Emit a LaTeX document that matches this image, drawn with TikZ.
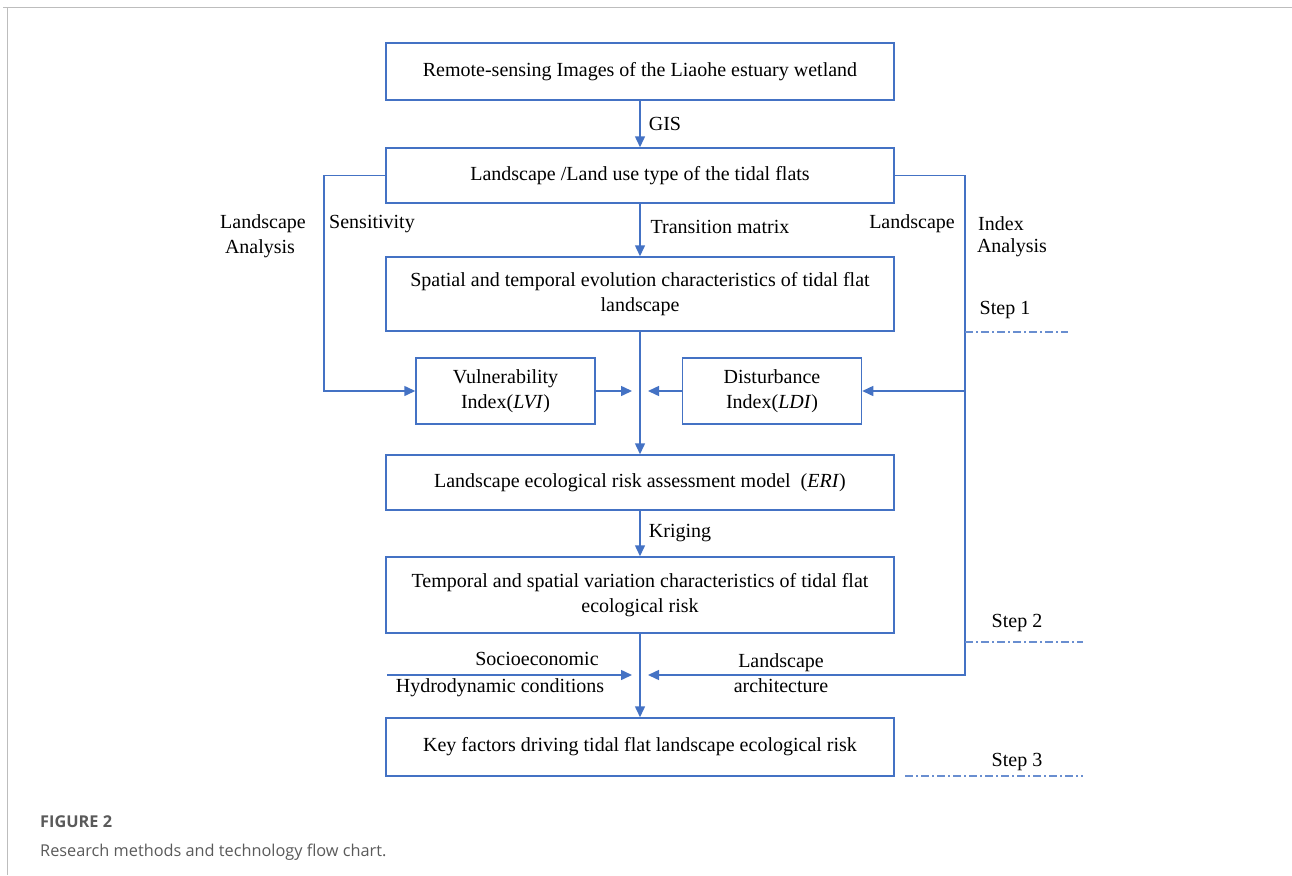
\documentclass[tikz,border=0pt]{standalone}
\usepackage{fontspec}
\setmainfont{Liberation Serif}
\newfontfamily\capfont{Open Sans}
\usetikzlibrary{arrows.meta}
\definecolor{flowblue}{HTML}{4472C4}
\definecolor{framegray}{HTML}{BDBDBD}
\definecolor{capgray}{HTML}{5A5A5A}
\tikzset{
  box/.style={draw=flowblue, line width=1.5pt, minimum width=508pt, align=center,
    inner sep=0pt, font=\fontsize{20}{25}\selectfont},
  smallbox/.style={box, minimum width=179pt, minimum height=66pt},
  lbl/.style={inner sep=0pt, font=\fontsize{20}{25}\selectfont, align=center},
  flow/.style={draw=flowblue, line width=1.5pt, -{Triangle[length=11pt,width=10pt]}},
  stepline/.style={draw=flowblue!80, line width=1.2pt,
    dash pattern=on 8pt off 3pt on 2pt off 3pt},
}
\begin{document}
\begin{tikzpicture}[x=1pt,y=-1pt]
  \useasboundingbox (0,0) rectangle (1292,875);
  % frame of the figure page
  \draw[framegray, line width=1pt] (3,8) -- (1292,8);
  \draw[framegray, line width=1pt] (7,8) -- (7,875);

  % main column
  \node[box, minimum height=57pt] (rs) at (640,71.5) {Remote-sensing Images\ of\ the Liaohe estuary wetland};
  \node[box, minimum height=55pt] (lu) at (640,175.5) {Landscape /Land use type of the tidal flats};
  \node[box, minimum height=74pt] (st) at (640,294) {Spatial and temporal\ evolution characteristics of tidal flat\\landscape};
  \node[smallbox] (lvi) at (505.5,391) {Vulnerability\\Index(\textit{LVI})};
  \node[smallbox] (ldi) at (772,391) {Disturbance\\Index(\textit{LDI})};
  \node[box, minimum height=55pt] (eri) at (640,482.5) {Landscape ecological risk assessment model\ \ (\textit{ERI})};
  \node[box, minimum height=76pt] (tv) at (640,595) {Temporal\ and spatial variation characteristics of tidal flat\\ecological risk};
  \node[box, minimum height=58pt] (kf) at (640,747) {Key factors\ driving\ tidal flat landscape ecological risk};

  % junction points
  \coordinate (sl) at (324,391);
  \coordinate (ir) at (965,675);
  \coordinate (ib) at (965,391);
  \coordinate (jl) at (632,391);
  \coordinate (jr) at (648,391);
  \coordinate (hl) at (387,675);
  \coordinate (hj) at (632,675);
  \coordinate (aj) at (648,675);

  % connectors
  \draw[flow] (rs) -- (lu);
  \draw[flow] (lu) -- (st);
  \draw[flow] (st) -- (eri);
  \draw[flow] (eri) -- (tv);
  \draw[flow] (tv) -- (kf);
  \draw[flow] (lu.west) -| (sl) -- (lvi);
  \draw[flow] (lvi) -- (jl);
  \draw[flow] (ldi) -- (jr);
  \draw[flow] (lu.east) -| (ir) -- (aj);
  \draw[flow] (ib) -- (ldi);
  \draw[flow] (hl) -- (hj);

  % labels
  \node[lbl] (gis) at (665,124) {GIS};
  \node[lbl] (tm) at (720,227) {Transition matrix};
  \node[lbl] (ls1) at (263,224) {Landscape};
  \node[lbl] (ls2) at (260,249) {Analysis};
  \node[lbl] (sens) at (372,224) {Sensitivity};
  \node[lbl] (li1) at (912,224) {Landscape};
  \node[lbl] (li2) at (1001,224) {Index};
  \node[lbl] (li3) at (1012,248) {Analysis};
  \node[lbl] (kr) at (680,533) {Kriging};
  \node[lbl] (soc) at (537,659) {Socioeconomic};
  \node[lbl] (hyd) at (500,688) {Hydrodynamic conditions};
  \node[lbl] (la) at (781,673) {Landscape\\architecture};

  % steps
  \node[lbl] (s1) at (1005,310) {Step 1};
  \node[lbl] (s2) at (1017,623) {Step 2};
  \node[lbl] (s3) at (1017,762) {Step 3};
  \coordinate (s1a) at (965,332);  \coordinate (s1b) at (1068,332);
  \coordinate (s2a) at (965,642);  \coordinate (s2b) at (1083,642);
  \coordinate (s3a) at (905,776);  \coordinate (s3b) at (1083,776);
  \draw[stepline] (s1a) -- (s1b);
  \draw[stepline] (s2a) -- (s2b);
  \draw[stepline] (s3a) -- (s3b);

  % caption
  \node[anchor=west, inner sep=0pt, text=capgray, font=\capfont\fontsize{16.3}{20}\selectfont\bfseries] (fig) at (40,822) {FIGURE 2};
  \node[anchor=west, inner sep=0pt, text=capgray, font=\capfont\fontsize{16.3}{20}\selectfont] (cap) at (40,852) {Research methods and technology flow chart.};
\end{tikzpicture}
\end{document}
